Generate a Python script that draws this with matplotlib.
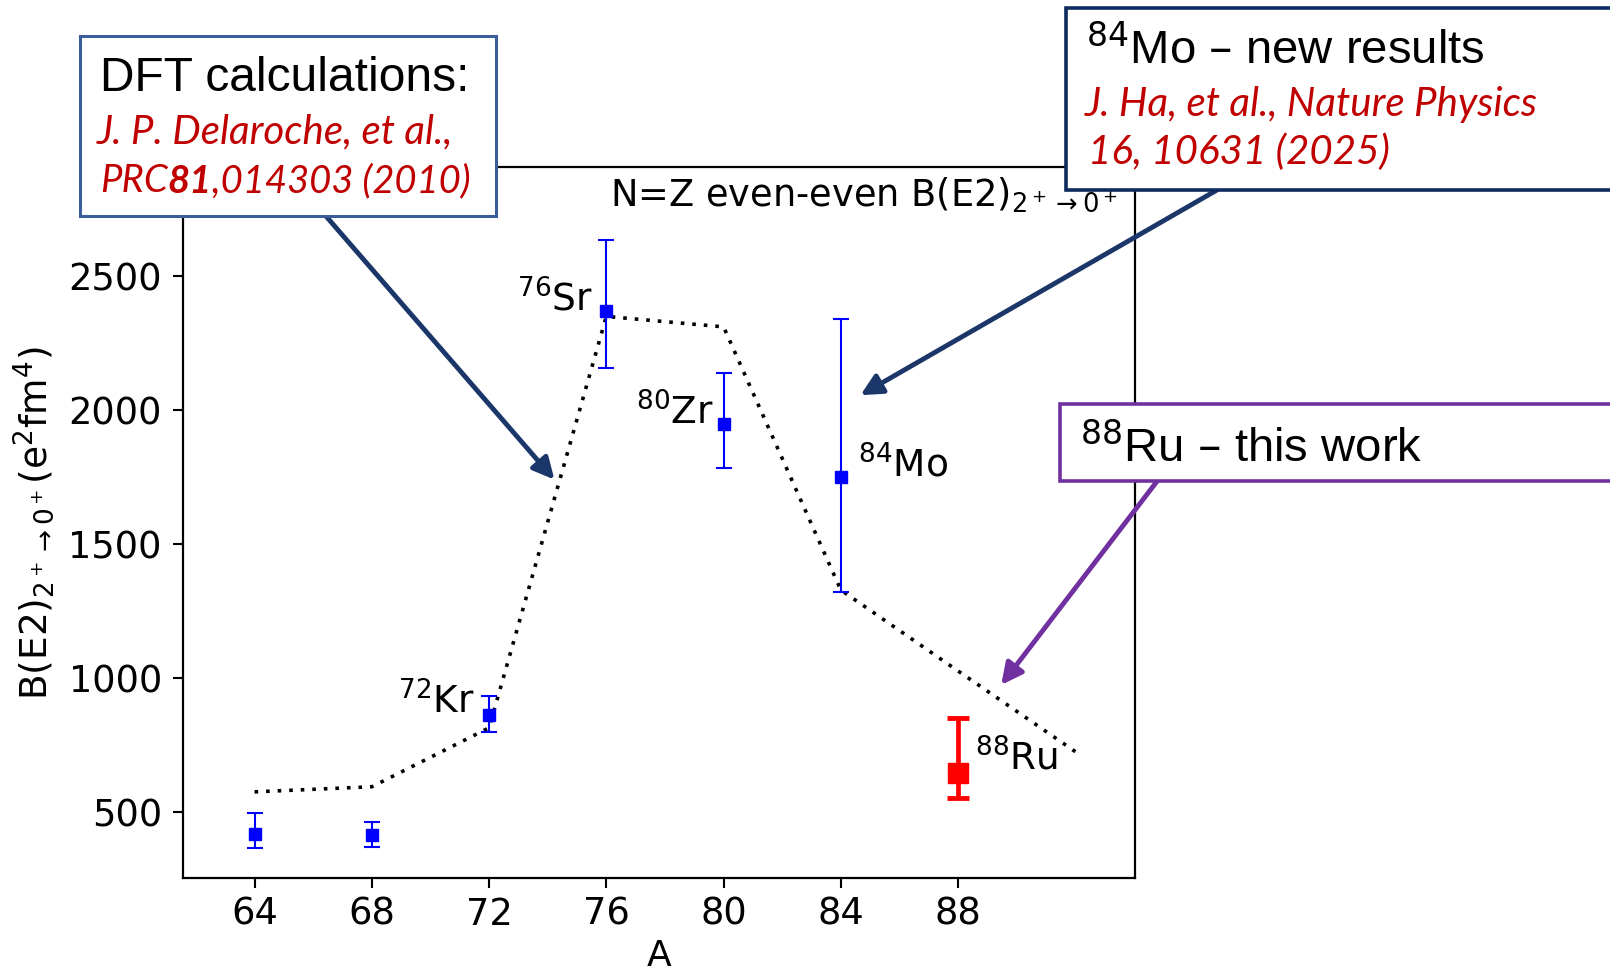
import matplotlib.pyplot as plt
from matplotlib.patches import Rectangle
from matplotlib.text import Annotation

plt.rcParams['mathtext.fontset'] = 'dejavusans'

# measured B(E2; 2+ -> 0+) for N=Z even-even nuclei (e^2 fm^4)
mass = [64, 68, 72, 76, 80, 84]
be2 = [419, 415, 863, 2371, 1948, 1752]
be2_lo = [54, 44, 65, 215, 164, 429]
be2_hi = [77, 50, 72, 264, 192, 587]

# 88Ru - this work
ru_mass = [88]
ru_be2 = [646]
ru_lo = [94]
ru_hi = [204]

# DFT calculations (Delaroche et al.)
dft_mass = [64, 68, 72, 76, 80, 84, 88, 92]
dft_be2 = [576, 595, 815, 2350, 2311, 1329, 1027, 726]

nuclei = ['$^{72}$Kr', '$^{76}$Sr', '$^{80}$Zr', '$^{84}$Mo', '$^{88}$Ru']
nuclei_mass = [72, 76, 80, 84, 88]
nuclei_be2 = [863, 2371, 1948, 1752, 646]

xticks = [64, 68, 72, 76, 80, 84, 88]
yticks = [500, 1000, 1500, 2000, 2500]

W, H = 1610, 975
RED = '#C00000'
NAVY = '#1B3668'
PURPLE = '#7030A0'


def fpos(x, y):
    # pixel position (from top left) -> figure fraction
    return x / W, 1 - y / H


def add_box(fig, x0, y0, x1, y1, color, lw):
    rect = Rectangle(fpos(x0, y1), (x1 - x0) / W, (y1 - y0) / H, transform=fig.transFigure,
                     facecolor='white', edgecolor=color, lw=lw, zorder=5)
    fig.add_artist(rect)


def add_text(fig, x, y, s, **kw):
    return fig.text(*fpos(x, y), s, va='baseline', zorder=6, **kw)


def add_after(fig, prev, s, **kw):
    # text placed directly right of a previous text
    a = Annotation(s, xy=(1, 0), xycoords=prev, ha='left', va='bottom', zorder=6, **kw)
    fig.add_artist(a)
    return a


fig = plt.figure(figsize=(16.1, 9.75), dpi=100)
ax = fig.add_axes([0.1135, 0.0996, 0.5912, 0.7287])

ax.plot(dft_mass, dft_be2, color='black', lw=2.6, linestyle=(0, (1, 2.2)), zorder=1)
ax.errorbar(mass, be2, yerr=[be2_lo, be2_hi], fmt='s', color='blue', ms=9,
            elinewidth=1.5, capsize=6, capthick=1.5, zorder=3)
ax.errorbar(ru_mass, ru_be2, yerr=[ru_lo, ru_hi], fmt='s', color='red', ms=15,
            elinewidth=3.4, capsize=8, capthick=3.5, zorder=3)

offsets = [(-10, 1), (-9.5, 0), (-7, 0), (12, 0), (12, 2)]
for name, x, y, off in zip(nuclei, nuclei_mass, nuclei_be2, offsets):
    ax.annotate(name, xy=(x, y), xytext=off, textcoords='offset points',
                ha='right' if off[0] < 0 else 'left', va='baseline', fontsize=27)

ax.text(0.982, 0.946, r'N=Z even-even B(E2)$_{2^+\rightarrow0^+}$', transform=ax.transAxes,
        ha='right', va='baseline', fontsize=26.5)

ax.set_xlim(61.55, 94.02)
ax.set_ylim(255, 2906)
ax.set_xticks(xticks)
ax.set_yticks(yticks)
ax.tick_params(labelsize=26.5, length=7, width=1.5)
ax.tick_params(axis='x', pad=6)
ax.tick_params(axis='y', pad=8)
for sp in ax.spines.values():
    sp.set_linewidth(1.6)
ax.set_xlabel('A', fontsize=26)
ax.set_ylabel(r'B(E2)$_{2^+\rightarrow0^+}$(e$^2$fm$^4$)', fontsize=27)
ax.xaxis.set_label_coords(0.5, -0.086)
ax.yaxis.set_label_coords(-0.133, 0.5)

# arrows from the boxes to the curve / points
arrow_kw = dict(arrowstyle='-|>', lw=3.5, mutation_scale=32, shrinkA=0, shrinkB=0)
ax.annotate('', xy=(74.23, 1741), xytext=fpos(325, 215), textcoords='figure fraction',
            arrowprops=dict(color=NAVY, **arrow_kw), annotation_clip=False)
ax.annotate('', xy=(84.67, 2056), xytext=fpos(1217, 190), textcoords='figure fraction',
            arrowprops=dict(color=NAVY, **arrow_kw), annotation_clip=False)
ax.annotate('', xy=(89.47, 975), xytext=fpos(1158, 480), textcoords='figure fraction',
            arrowprops=dict(color=PURPLE, **arrow_kw), annotation_clip=False)

# reference boxes
box_font = 'Liberation Sans'
ref_font = dict(family='Lato', style='italic', color=RED, fontsize=29)
ref_small = dict(ref_font, fontsize=27.5)

add_box(fig, 80, 36, 496, 216, '#3A5D9C', 2.2)
add_text(fig, 100, 91, 'DFT calculations:', family=box_font, fontsize=34.5)
add_text(fig, 97, 143, 'J. P. Delaroche, et al.,', **ref_font)
t = add_text(fig, 100, 192, 'PRC', **ref_small)
t = add_after(fig, t, '81', weight='bold', **ref_small)
add_after(fig, t, ',014303 (2010)', **ref_small)

add_box(fig, 1066, 8, 1640, 190, '#0E2A5E', 2.6)
add_text(fig, 1086, 64, r'$^{84}$Mo – new results', family=box_font, fontsize=34)
add_text(fig, 1085, 116, 'J. Ha, et al., Nature Physics', **ref_font)
add_text(fig, 1088, 164, '16, 10631 (2025)', **ref_font)

add_box(fig, 1060, 404, 1640, 481, PURPLE, 2.6)
add_text(fig, 1080, 462, r'$^{88}$Ru – this work', family=box_font, fontsize=34)

fig.savefig('out.png', dpi=100)
